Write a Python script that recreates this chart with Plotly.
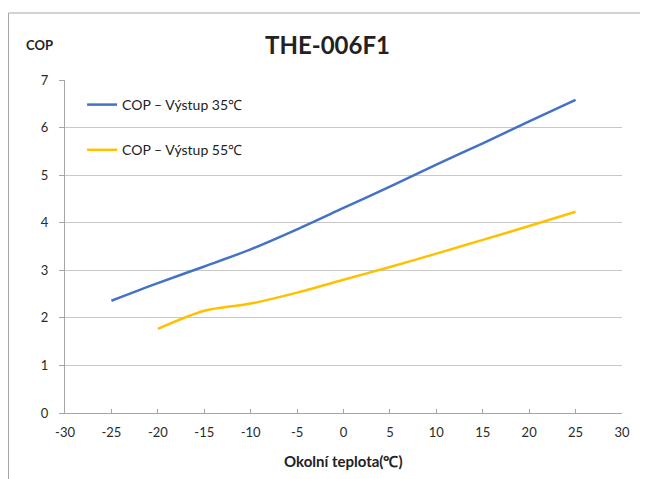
import plotly.graph_objects as go

temps_35 = [-25, -20, -15, -10, -5, 0, 5, 10, 15, 20, 25]
cop_35 = [2.36, 2.73, 3.08, 3.44, 3.86, 4.31, 4.76, 5.22, 5.67, 6.13, 6.58]
temps_55 = [-20, -15, -10, -5, 0, 5, 10, 15, 20, 25]
cop_55 = [1.77, 2.15, 2.30, 2.53, 2.80, 3.07, 3.35, 3.64, 3.93, 4.23]
name_35 = "COP – Výstup 35℃"
name_55 = "COP – Výstup 55℃"
x_ticks = list(range(-30, 31, 5))
x_tick_labels = [str(v) for v in x_ticks]
y_ticks = list(range(0, 8))
y_tick_labels = [str(v) for v in y_ticks]

FONT = "Lato"
# page has 8px body margin; figure is 640x471 placed at (8,8)
OFF = 8
PL, PR, PT, PB = 65, 622, 80, 413  # plot area in page pixels
W, H = 648 - OFF, 479 - OFF


def px(xp):
    return (xp - PL) / (PR - PL)


def py(yp):
    return (PB - yp) / (PB - PT)


fig = go.Figure()
fig.add_trace(go.Scatter(x=temps_35, y=cop_35, mode="lines", name=name_35, legendgroup="a",
                         line=dict(color="#4472C4", width=2.5, shape="spline", smoothing=0.8)))
fig.add_trace(go.Scatter(x=temps_55, y=cop_55, mode="lines", name=name_55, legendgroup="b",
                         line=dict(color="#FFC000", width=2.5, shape="spline", smoothing=0.8)))

fig.update_layout(
    width=W, height=H,
    margin=dict(l=PL - OFF, r=W - (PR - OFF), t=PT - OFF, b=H - (PB - OFF), autoexpand=False),
    paper_bgcolor="white", plot_bgcolor="white",
    font=dict(family=FONT, size=12, color="#333333"),
    showlegend=True,
    legend=dict(x=px(86) - 0.007, y=py(89), xanchor="left", yanchor="top",
                bgcolor="rgba(0,0,0,0)", font=dict(size=14, color="#222222"),
                itemwidth=30, tracegroupgap=24, traceorder="grouped"),
    xaxis=dict(range=[-30, 30], tickvals=x_ticks, ticktext=x_tick_labels,
               showgrid=False, zeroline=False,
               showline=True, linecolor="#A6A6A6", linewidth=1,
               ticks="inside", ticklen=4, tickcolor="#A6A6A6",
               ticklabelstandoff=7,
               tickfont=dict(size=13, color="#2a2a2a")),
    yaxis=dict(range=[0, 7], tickvals=y_ticks, ticktext=y_tick_labels,
               showgrid=True, gridcolor="#C8C8C8", gridwidth=1,
               zeroline=False, showline=True, linecolor="#A6A6A6", linewidth=1,
               ticks="outside", ticklen=5, tickcolor="#A6A6A6",
               ticklabelstandoff=8,
               tickfont=dict(size=13, color="#2a2a2a")),
    annotations=[
        dict(text="<b>THE-006F1</b>", x=px(327.5), y=py(44), xanchor="center", yanchor="middle",
             xref="paper", yref="paper", showarrow=False,
             font=dict(size=24, color="#222222", family=FONT)),
        dict(text="<b>COP</b>", x=px(39.5), y=py(45), xanchor="center", yanchor="middle",
             xref="paper", yref="paper", showarrow=False,
             font=dict(size=13, color="#222222", family=FONT)),
        dict(text="<b>Okolní teplota(℃)</b>", x=px(343), y=py(461), xanchor="center", yanchor="middle",
             xref="paper", yref="paper", showarrow=False,
             font=dict(size=15, color="#222222", family=FONT)),
    ],
    shapes=[
        dict(type="rect", xref="paper", yref="paper",
             x0=px(8.5), x1=px(643), y0=py(500), y1=py(13),
             line=dict(color="#A6A6A6", width=1), fillcolor="rgba(0,0,0,0)", layer="below"),
    ],
)

fig.write_html("out.html")
